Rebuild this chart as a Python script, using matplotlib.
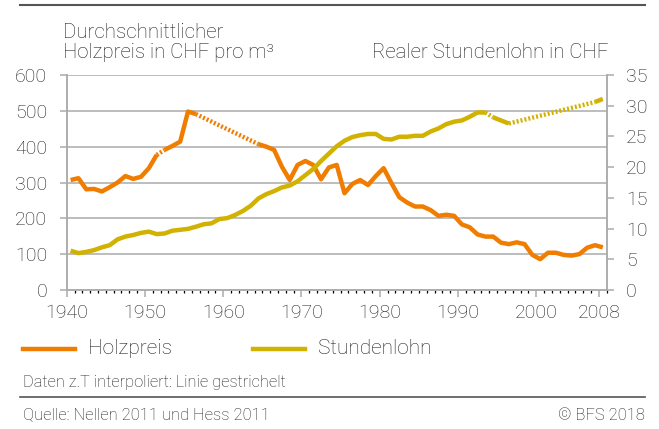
import numpy as np
import matplotlib
matplotlib.use("Agg")
import matplotlib.pyplot as plt

plt.rcParams["font.family"] = ["Roboto", "DejaVu Sans"]
plt.rcParams["font.weight"] = "light"

# data (NaN = no value, line interpolated)
years = np.arange(1940, 2009)

holzpreis = [
    307, 312, 281, 282, 275, 287, 300, 318, 310, 316,   # 1940-1949
    340, 377, 391, 402, 414, 498, 491, np.nan, np.nan, np.nan,  # 1950-1959
    np.nan, np.nan, np.nan, np.nan, 407, 400, 391, 344, 307, 349,  # 1960-1969
    360, 349, 309, 342, 349, 270, 296, 307, 293, 318,   # 1970-1979
    340, 298, 259, 244, 233, 233, 223, 207, 210, 207,   # 1980-1989
    183, 175, 155, 149, 149, 132, 128, 133, 128, 98,    # 1990-1999
    86, 104, 104, 98, 96, 100, 118, 125, 119,           # 2000-2008
]

stundenlohn = [
    6.4, 6.0, 6.2, 6.5, 6.95, 7.3, 8.25, 8.7, 8.95, 9.3,      # 1940-1949
    9.5, 9.1, 9.2, 9.65, 9.8, 9.95, 10.3, 10.7, 10.85, 11.55,  # 1950-1959
    11.7, 12.2, 12.85, 13.7, 14.9, 15.6, 16.1, 16.7, 17.0, 17.7,  # 1960-1969
    18.7, 19.7, 21.0, 22.2, 23.4, 24.3, 24.9, 25.2, 25.4, 25.4,  # 1970-1979
    24.6, 24.5, 24.95, 24.95, 25.1, 25.1, 25.8, 26.3, 27.0, 27.4,  # 1980-1989
    27.6, 28.2, 28.9, 28.9, 28.1, 27.6, 27.1, np.nan, np.nan, np.nan,  # 1990-1999
    np.nan, np.nan, np.nan, np.nan, np.nan, np.nan, np.nan, 30.6, 31.1,  # 2000-2008
]

# pairs of years joined by a dashed (interpolated) line
holz_dashed = [(1951, 1952), (1956, 1964)]
lohn_dashed = [(1993, 1994), (1996, 2007)]

xtick_labels = ["1940", "1950", "1960", "1970", "1980", "1990", "2000", "2008"]

ORANGE = "#f07d00"
YELLOW = "#d2b200"
GRID = "#ababab"
TEXT = "#1e1e1e"


def solid_runs(yrs, vals, dashed):
    runs, cur = [], []
    for y, v in zip(yrs, vals):
        if np.isnan(v):
            if cur:
                runs.append(cur)
            cur = []
            continue
        if cur and (cur[-1][0], y) in dashed:
            runs.append(cur)
            cur = []
        cur.append((y, v))
    if cur:
        runs.append(cur)
    return runs


def draw_series(ax, yrs, vals, dashed, color):
    vals = np.asarray(vals, dtype=float)
    lookup = dict(zip(yrs, vals))
    for run in solid_runs(yrs, vals, dashed):
        xs, ys = zip(*run)
        ax.plot(xs, ys, color=color, lw=3.2, solid_joinstyle="round",
                solid_capstyle="butt")
    for a, b in dashed:
        ax.plot([a, b], [lookup[a], lookup[b]], color=color, lw=3.2,
                dashes=(0.45, 0.45), dash_capstyle="butt")


fig = plt.figure(figsize=(6.59, 4.29), dpi=100)
ax = fig.add_axes([66.7 / 659, 1 - 290 / 429, 540 / 659, 215 / 429])
ax2 = ax.twinx()

ax.set_xlim(1939.5, 2008.5)
ax.set_ylim(0, 600)
ax2.set_ylim(0, 35)

ax.set_yticks(np.arange(0, 601, 100))
ax2.set_yticks(np.arange(0, 36, 5))
for v in range(100, 601, 100):
    ax.axhline(v, color=GRID, lw=1.1, zorder=0)

major = [1939.5, 1949.5, 1959.5, 1969.5, 1979.5, 1989.5, 1999.5, 2007.5]
ax.set_xticks(major)
ax.set_xticklabels(xtick_labels)
ax.set_xticks(np.arange(1939.5, 2008.6, 1), minor=True)

for a in (ax, ax2):
    for s in a.spines.values():
        s.set_color(GRID)
        s.set_linewidth(1.1)
    a.spines["top"].set_visible(False)
    a.tick_params(colors=GRID, labelcolor=TEXT, labelsize=14, width=1.1)
ax.tick_params(axis="y", length=5, pad=9)
ax2.tick_params(axis="y", length=5, pad=9)
ax.tick_params(axis="x", which="major", length=5, pad=5)
ax.tick_params(axis="x", which="minor", length=2.5, width=0.9)

draw_series(ax, years, holzpreis, holz_dashed, ORANGE)
draw_series(ax2, years, stundenlohn, lohn_dashed, YELLOW)

# titles
fig.text(63 / 659, 1 - 32 / 429, "Durchschnittlicher", fontsize=14.7,
         color=TEXT, va="center")
fig.text(63 / 659, 1 - 53 / 429, "Holzpreis in CHF pro m³", fontsize=14.7,
         color=TEXT, va="center")
fig.text(608 / 659, 1 - 53 / 429, "Realer Stundenlohn in CHF", fontsize=14.7,
         color=TEXT, va="center", ha="right")

# legend
fig.add_artist(plt.Line2D([23 / 659, 75 / 659], [1 - 349 / 429] * 2,
                          color=ORANGE, lw=3.2))
fig.text(88 / 659, 1 - 349 / 429, "Holzpreis", fontsize=15, color=TEXT,
         va="center")
fig.add_artist(plt.Line2D([253 / 659, 305 / 659], [1 - 349 / 429] * 2,
                          color=YELLOW, lw=3.2))
fig.text(318 / 659, 1 - 349 / 429, "Stundenlohn", fontsize=15, color=TEXT,
         va="center")

fig.text(23 / 659, 1 - 383 / 429, "Daten z.T interpoliert: Linie gestrichelt",
         fontsize=11.8, color=TEXT, va="center")

# rules and footer
fig.add_artist(plt.Line2D([20 / 659, 645 / 659], [1 - 5 / 429] * 2,
                          color="#555555", lw=1.5))
fig.add_artist(plt.Line2D([20 / 659, 645 / 659], [1 - 397 / 429] * 2,
                          color="#555555", lw=1.2))
fig.text(23 / 659, 1 - 415 / 429, "Quelle: Nellen 2011 und Hess 2011",
         fontsize=11.9, color=TEXT, va="center")
fig.text(645 / 659, 1 - 415 / 429, "© BFS 2018", fontsize=11.9, color=TEXT,
         va="center", ha="right")

fig.savefig("out.png", dpi=100)
